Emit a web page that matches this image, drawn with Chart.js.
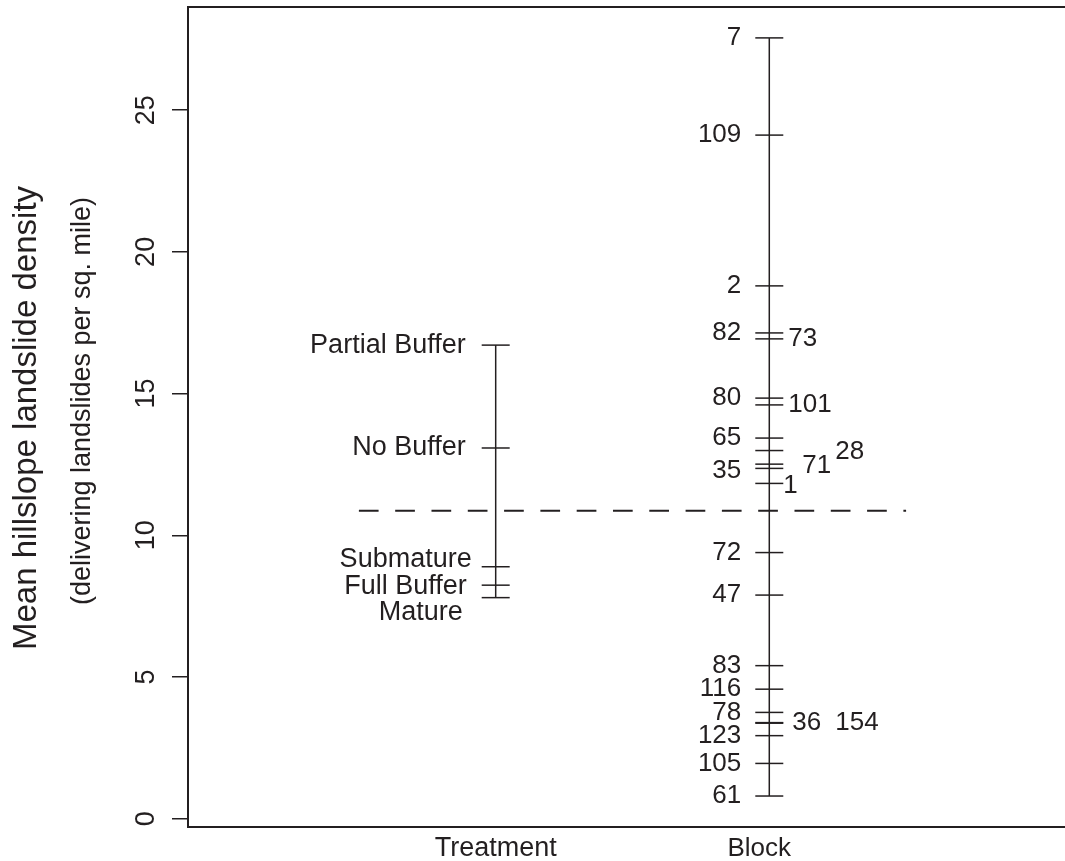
<!DOCTYPE html>
<html>
<head>
<meta charset="utf-8">
<script src="https://cdn.jsdelivr.net/npm/chart.js@4.4.1/dist/chart.umd.min.js"></script>
<style>
  html, body { margin: 0; padding: 0; background: #fff; overflow: hidden; }
  #wrap { width: 1085px; height: 861px; }
</style>
</head>
<body>
<div id="wrap"><canvas id="designPlot"></canvas></div>
<script>
// factor means, landslides per sq. mile
const factorNames = ['Treatment', 'Block'];

const treatmentLevels = ['Partial Buffer', 'No Buffer', 'Submature', 'Full Buffer', 'Mature'];
const treatmentMeans = [16.71, 13.08, 8.89, 8.24, 7.80];

const blockLevels = ['7', '109', '2', '82', '73', '80', '101', '65', '28', '71', '35', '1',
    '72', '47', '83', '116', '78', '36', '154', '123', '105', '61'];
const blockMeans = [27.55, 24.12, 18.80, 17.14, 16.93, 14.84, 14.60, 13.43, 12.99, 12.51, 12.36, 11.83,
    9.39, 7.89, 5.40, 4.57, 3.75, 3.39, 3.37, 2.93, 1.95, 0.80];

const grandMean = 10.87;
const yTickValues = [0, 5, 10, 15, 20, 25];

// label nudges in px: [dx, dy] for treatment (text ends left of the stem)
const treatmentNudge = [[0, 0], [0, 0], [6, -7], [1, 1], [-3, 15]];
// block labels: side, dx from stem, dy
const blockPlacement = [
    ['L', 0, 0], ['L', 0, 0], ['L', 0, 0], ['L', 0, 0], ['R', 19, 0],
    ['L', 0, 0], ['R', 19, 0], ['L', 0, 0], ['R', 66, 1], ['R', 33, 2],
    ['L', 0, 2], ['R', 14, 2], ['L', 0, 0], ['L', 0, 0], ['L', 0, 0],
    ['L', 0, 0], ['L', 0, 0], ['R', 23, 0], ['R', 66, 0], ['L', 0, 0],
    ['L', 0, 0], ['L', 0, 0]
];

const ink = '#231f20';
const fontFamily = "'Liberation Sans', Arial, Helvetica, sans-serif";

function stem(x, values) {
    return [{ x: x, y: Math.min(...values) }, { x: x, y: Math.max(...values) }];
}

// text labels, axis labels and the frame
const designLabels = {
    id: 'designLabels',
    afterDraw(chart) {
        const ctx = chart.ctx;
        const xs = chart.scales.x;
        const ys = chart.scales.y;
        const area = chart.chartArea;
        ctx.save();
        ctx.fillStyle = ink;

        // frame
        ctx.strokeStyle = ink;
        ctx.lineWidth = 2;
        ctx.strokeRect(area.left, area.top, area.right - area.left, area.bottom - area.top);

        // level labels
        ctx.textBaseline = 'middle';
        const tx = xs.getPixelForValue(1);
        ctx.font = `27px ${fontFamily}`;
        ctx.textAlign = 'right';
        treatmentLevels.forEach((name, i) => {
            const py = ys.getPixelForValue(treatmentMeans[i]);
            ctx.fillText(name, tx - 30 + treatmentNudge[i][0], py + treatmentNudge[i][1]);
        });
        const bx = xs.getPixelForValue(2);
        ctx.font = `26px ${fontFamily}`;
        blockLevels.forEach((name, i) => {
            const [side, dx, dy] = blockPlacement[i];
            const py = ys.getPixelForValue(blockMeans[i]) + dy;
            if (side === 'L') {
                ctx.textAlign = 'right';
                ctx.fillText(name, bx - 28 + dx, py);
            } else {
                ctx.textAlign = 'left';
                ctx.fillText(name, bx + dx, py);
            }
        });

        // factor names under the frame
        ctx.textAlign = 'center';
        ctx.textBaseline = 'alphabetic';
        const nameShift = [0, -10];
        const nameSize = [27, 26];
        factorNames.forEach((name, i) => {
            ctx.font = `${nameSize[i]}px ${fontFamily}`;
            ctx.fillText(name, xs.getPixelForValue(i + 1) + nameShift[i], 856);
        });

        // rotated y tick labels
        ctx.font = `27px ${fontFamily}`;
        ys.ticks.forEach(t => {
            ctx.save();
            ctx.translate(154, ys.getPixelForValue(t.value));
            ctx.rotate(-Math.PI / 2);
            ctx.fillText(String(t.value), 0, 0);
            ctx.restore();
        });

        // y axis title
        const midY = (area.top + area.bottom) / 2;
        ctx.save();
        ctx.translate(36, midY + 1);
        ctx.rotate(-Math.PI / 2);
        ctx.font = `33px ${fontFamily}`;
        ctx.fillText('Mean hillslope landslide density', 0, 0);
        ctx.restore();
        ctx.save();
        ctx.translate(89.5, midY - 16);
        ctx.rotate(-Math.PI / 2);
        ctx.font = `27px ${fontFamily}`;
        ctx.fillText('(delivering landslides per sq. mile)', 0, 0);
        ctx.restore();

        ctx.restore();
    }
};

const config = {
    type: 'scatter',
    data: {
        datasets: [
            {
                type: 'line', data: stem(1, treatmentMeans),
                borderColor: ink, borderWidth: 1.5, pointRadius: 0
            },
            {
                type: 'line', data: stem(2, blockMeans),
                borderColor: ink, borderWidth: 1.5, pointRadius: 0
            },
            {
                data: treatmentMeans.map(v => ({ x: 1, y: v })),
                pointStyle: 'line', pointRadius: 14, borderColor: ink, borderWidth: 1.5
            },
            {
                data: blockMeans.map(v => ({ x: 2, y: v })),
                pointStyle: 'line', pointRadius: 14, borderColor: ink, borderWidth: 1.5
            },
            {
                // grand mean across all plots
                type: 'line', data: [{ x: 0.5, y: grandMean }, { x: 2.5, y: grandMean }],
                borderColor: ink, borderWidth: 2, borderDash: [19.7, 16.6], pointRadius: 0
            }
        ]
    },
    options: {
        responsive: true,
        maintainAspectRatio: false,
        animation: false,
        events: [],
        layout: { autoPadding: false, padding: { top: 7, bottom: 34, right: 9, left: 0 } },
        plugins: { legend: { display: false }, tooltip: { enabled: false } },
        scales: {
            x: { type: 'linear', display: false, min: -0.1246, max: 3.121 },
            y: {
                type: 'linear',
                min: -0.293,
                max: 28.64,
                afterBuildTicks: scale => { scale.ticks = yTickValues.map(v => ({ value: v })); },
                afterFit: scale => { scale.width = 188; },
                ticks: { display: false },
                border: { display: false },
                grid: {
                    drawOnChartArea: false, drawTicks: true, tickLength: 16,
                    color: ink, lineWidth: 1.5
                }
            }
        }
    },
    plugins: [designLabels]
};

new Chart('designPlot', config);
</script>
</body>
</html>
